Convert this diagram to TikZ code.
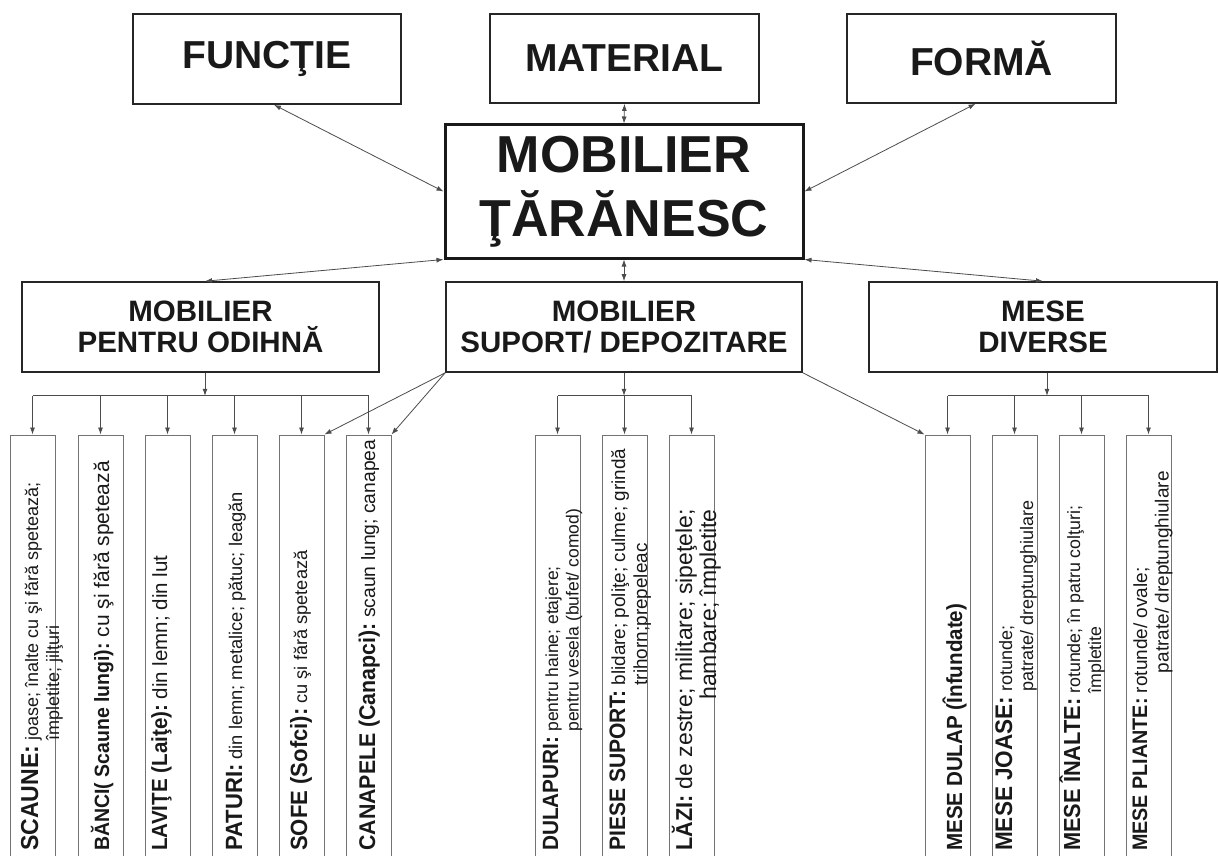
\documentclass[tikz,border=0pt]{standalone}
\usepackage{fontspec}
\usepackage{graphicx}
\setmainfont{Liberation Sans}
\usetikzlibrary{arrows.meta,calc}
\newcommand\mylbl[2]{\scalebox{0.94}[1]{\fontsize{#1}{#1}\selectfont\bfseries #2}}
\newcommand\mysml[3]{{\fontsize{#1}{#2}\selectfont\ #3}}
\tikzset{
 topbox/.style={draw=black!85, line width=1.6pt, inner sep=0pt, text=black!90, font=\fontsize{39}{42}\selectfont\bfseries},
 mainbox/.style={draw=black!90, line width=3pt, inner sep=0pt, align=center, text=black!90, font=\fontsize{52}{64}\selectfont\bfseries},
 midbox/.style={draw=black!85, line width=1.6pt, inner sep=0pt, align=center, text=black!90, font=\fontsize{29.5}{30.5}\selectfont\bfseries},
 leaf/.style={draw=black!55, line width=1pt, inner sep=0pt, minimum width=45pt, minimum height=445pt},
 leaftext/.style={rotate=90, anchor=base west, inner sep=0pt, text=black!90},
 link/.style={draw=black!70, line width=0.8pt},
 tip/.style={-{Latex[length=7pt,width=5pt]}},
 both/.style={{Latex[length=7pt,width=5pt]}-{Latex[length=7pt,width=5pt]}},
}
\begin{document}
\begin{tikzpicture}[x=1pt,y=-1pt]
\useasboundingbox[fill=white] (0,0) rectangle (1219,856);
\clip (0,0) rectangle (1219,856);

% top level
\node[topbox, minimum width=268pt, minimum height=90pt] (fun) at (267,59) {FUNCŢIE};
\node[topbox, minimum width=269pt, minimum height=89pt] (mat) at (624.5,58.5) {MATERIAL};
\node[topbox, minimum width=269pt, minimum height=89pt] (frm) at (981.5,58.5) {FORMĂ};
\node[mainbox, minimum width=358pt, minimum height=133pt] (c) at (624,191.5) {MOBILIER\\ŢĂRĂNESC};

% second level
\node[midbox, minimum width=357pt, minimum height=90pt] (od) at (200.5,327) {MOBILIER\\PENTRU ODIHNĂ};
\node[midbox, minimum width=356pt, minimum height=90pt] (sup) at (624,327) {MOBILIER\\SUPORT/ DEPOZITARE};
\node[midbox, minimum width=348pt, minimum height=90pt] (me) at (1043,327) {MESE\\DIVERSE};

% leaves
\node[leaf] (s1) at (32.5,657.5) {};
\node[leaf] (s2) at (100.5,657.5) {};
\node[leaf] (s3) at (167.5,657.5) {};
\node[leaf] (s4) at (234.5,657.5) {};
\node[leaf] (s5) at (301.5,657.5) {};
\node[leaf] (s6) at (368.5,657.5) {};
\node[leaf] (d1) at (557.5,657.5) {};
\node[leaf] (d2) at (624.5,657.5) {};
\node[leaf] (d3) at (691.5,657.5) {};
\node[leaf] (m1) at (947.5,657.5) {};
\node[leaf] (m2) at (1014.5,657.5) {};
\node[leaf] (m3) at (1081.5,657.5) {};
\node[leaf] (m4) at (1148.5,657.5) {};

% leaf texts
\node[leaftext] (t1) at (38,851) {\mylbl{24.5}{SCAUNE:}\mysml{18}{21}{\begin{tabular}[t]{@{}l@{}}joase; înalte cu şi fără spetează;\\împletite; jilţuri\end{tabular}}};
\node[leaftext] (t2) at (109,851) {\mylbl{20.7}{BĂNCI( Scaune lungi):}\mysml{21}{24}{cu şi fără spetează}};
\node[leaftext] (t3) at (167,851) {\mylbl{21.9}{LAVIŢE (Laiţe):}\mysml{20.5}{23}{din lemn; din lut}};
\node[leaftext] (t4) at (242,851) {\mylbl{23.5}{PATURI:}\mysml{18.3}{21}{din lemn; metalice; pătuc; leagăn}};
\node[leaftext] (t5) at (307,851) {\mylbl{23.5}{SOFE (Sofci):}\mysml{18.2}{21}{cu şi fără spetează}};
\node[leaftext] (t6) at (375,851) {\mylbl{22.7}{CANAPELE (Canapci):}\mysml{19.3}{22}{scaun lung; canapea}};
\node[leaftext] (t7) at (558,851) {\mylbl{22.1}{DULAPURI:}\mysml{17.5}{20.5}{\begin{tabular}[t]{@{}l@{}}pentru haine; etajere;\\pentru vesela (bufet/ comod)\end{tabular}}};
\node[leaftext] (t8) at (625,851) {\mylbl{22.4}{PIESE SUPORT:}\mysml{18.9}{22}{\begin{tabular}[t]{@{}l@{}}blidare; poliţe; culme; grindă\\trihorn;prepeleac\end{tabular}}};
\node[leaftext] (t9) at (692,851) {\mylbl{23}{LĂZI:}\mysml{23}{24}{\begin{tabular}[t]{@{}r@{}}de zestre; militare; sipeţele;\\hambare; împletite\end{tabular}}};
\node[leaftext] (t10) at (962,851) {\mylbl{21.9}{MESE DULAP (Înfundate)}};
\node[leaftext] (t11) at (1012,851) {\mylbl{24}{MESE JOASE:}\mysml{18}{21}{\begin{tabular}[t]{@{}l@{}}rotunde;\\patrate/ dreptunghiulare\end{tabular}}};
\node[leaftext] (t12) at (1080,851) {\mylbl{23.2}{MESE ÎNALTE:}\mysml{17.8}{21}{\begin{tabular}[t]{@{}l@{}}rotunde; în patru colţuri;\\împletite\end{tabular}}};
\node[leaftext] (t13) at (1147,851) {\mylbl{21}{MESE PLIANTE:}\mysml{19}{21.5}{\begin{tabular}[t]{@{}l@{}}rotunde/ ovale;\\\hspace{20pt}patrate/ dreptunghiulare\end{tabular}}};

% connectors top
\draw[link,both] ([xshift=7pt]fun.south) -- (c.west);
\draw[link,both] (mat.south) -- (c.north);
\draw[link,both] ([xshift=-6pt]frm.south) -- (c.east);
\draw[link,both] (c.south west) -- ([xshift=4.5pt]od.north);
\draw[link,both] (c.south) -- (sup.north);
\draw[link,both] (c.south east) -- (me.north);

% odihna children
\coordinate (odbar) at ($([xshift=4.5pt]od.south)+(0,23)$);
\draw[link,tip] ([xshift=4.5pt]od.south) -- (odbar);
\draw[link] (s1.north |- odbar) -- (s6.north |- odbar);
\foreach \n in {s1,s2,s3,s4,s5,s6} \draw[link,tip] (\n.north |- odbar) -- (\n.north);

% suport children
\coordinate (supbar) at ($(sup.south)+(0,23)$);
\draw[link,tip] (sup.south) -- (supbar);
\draw[link] (d1.north |- supbar) -- (d3.north |- supbar);
\foreach \n in {d1,d2,d3} \draw[link,tip] (\n.north |- supbar) -- (\n.north);
\draw[link,tip] (sup.south west) -- (s5.north east);
\draw[link,tip] (sup.south west) -- (s6.north east);
\draw[link,tip] (sup.south east) -- (m1.north west);

% mese children
\coordinate (mebar) at ($([xshift=4pt]me.south)+(0,23)$);
\draw[link,tip] ([xshift=4pt]me.south) -- (mebar);
\draw[link] (m1.north |- mebar) -- (m4.north |- mebar);
\foreach \n in {m1,m2,m3,m4} \draw[link,tip] (\n.north |- mebar) -- (\n.north);
\end{tikzpicture}
\end{document}
